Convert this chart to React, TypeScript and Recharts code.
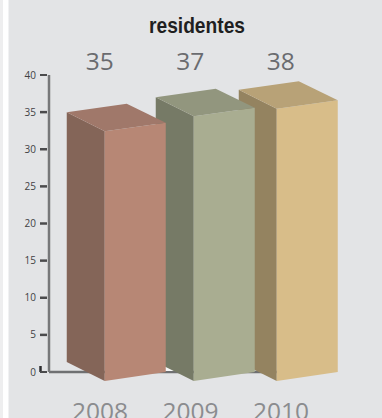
import { Bar, BarChart, LabelList, XAxis, YAxis } from "recharts";

const years = ["2008", "2009", "2010"];
const residents = [35, 37, 38];
const yTicks = [0, 5, 10, 15, 20, 25, 30, 35, 40];

// front, side and top face of each block
const faceColors: Record<string, { front: string; side: string; top: string }> = {
  "2008": { front: "#b78775", side: "#846558", top: "#a0786a" },
  "2009": { front: "#a9ad91", side: "#767a66", top: "#92967e" },
  "2010": { front: "#d8bd89", side: "#948360", top: "#b8a277" }
};

// the blocks do not sit evenly on the category bands
const blockOffset: Record<string, number> = { "2008": -33, "2009": -34.5, "2010": -42 };

const FRONT_W = 61;
const DEPTH_X = 38;
const DEPTH_Y = 19;
const SKEW = 8.5;
const FLOOR_LIFT = 10;
const AXIS_X = 49;

const SANS = "'Open Sans', sans-serif";

// rows run last year first so earlier blocks paint over later ones
const rows = years
  .map((year, i) => ({ year, residents: residents[i] }))
  .reverse();

function Block(props: any) {
  const { x, y, width, height, payload } = props;
  const colors = faceColors[payload.year];
  const left = x + width / 2 + blockOffset[payload.year];
  const corner = left + DEPTH_X;
  const right = corner + FRONT_W;
  const base = y + height;

  return (
    <g>
      {/* the baseline has to sit behind the blocks, so the first one painted draws it */}
      {payload.year === rows[0].year && (
        <line x1={AXIS_X} x2={corner} y1={base} y2={base} stroke="#6f7072" strokeWidth={2.5} />
      )}
      {/* small highlight where the middle block meets the floor */}
      {payload.year === "2009" && (
        <polygon
          fill="#f7f7f7"
          points={`${left + 8},${base - 6} ${left + 20},${base - 1} ${left + 8},${base - 1}`}
        />
      )}
      <polygon
        fill={colors.side}
        points={`${left},${y} ${corner},${y + DEPTH_Y} ${corner},${base + 9} ${left},${base - FLOOR_LIFT}`}
      />
      <polygon
        fill={colors.front}
        points={`${corner},${y + DEPTH_Y} ${right},${y + DEPTH_Y - SKEW} ${right},${base} ${corner},${base + 9}`}
      />
      <polygon
        fill={colors.top}
        points={`${left},${y} ${left + FRONT_W - 1},${y - SKEW} ${right},${y + DEPTH_Y - SKEW} ${corner},${y + DEPTH_Y}`}
      />
    </g>
  );
}

function ValueTick({ x, y, payload }: any) {
  return (
    <g>
      {payload.value === 0 && <path d={`M${x - 0.5} ${y - 6}V${y}`} stroke="#2e2e30" strokeWidth={2.5} />}
      <line x1={x - 1} x2={x + 6} y1={y} y2={y} stroke="#4b4b4d" strokeWidth={payload.value === 0 || payload.value === 40 ? 2 : 2.5} />
      <text x={x - 5} y={y + 3.5} textAnchor="end" fontSize={10} fontFamily={SANS} fill="#414143">
        {payload.value}
      </text>
    </g>
  );
}

function YearTick({ x, y, payload }: any) {
  return (
    <text x={x} y={y + 40} textAnchor="middle" fontSize={24.5} fontFamily={SANS} fill="#8b8c8f">
      {payload.value}
    </text>
  );
}

function ResidentsLabel({ x, width, value }: any) {
  return (
    <text x={x + width / 2} y={70} textAnchor="middle" fontSize={24.5} fontFamily={SANS} fill="#6a6b6f">
      {value}
    </text>
  );
}

export default function App() {
  return (
    <div
      style={{
        position: "fixed",
        left: 0,
        top: 0,
        width: 382,
        height: 418,
        overflow: "hidden",
        background: "linear-gradient(90deg, #eeeeef 0 3px, #ffffff 3px 8px, #e3e4e6 9px)"
      }}
    >
      <BarChart
        width={382}
        height={418}
        data={rows}
        margin={{ top: 75, right: 55.75, bottom: 0, left: 0 }}
      >
        <XAxis
          dataKey="year"
          reversed
          height={46}
          padding={{ left: 5.75, right: 0 }}
          axisLine={false}
          tickLine={false}
          tick={<YearTick />}
          interval={0}
        />
        <YAxis
          width={49}
          domain={[0, 40]}
          ticks={yTicks}
          interval={0}
          stroke="#77787a"
          strokeWidth={2.5}
          tickLine={false}
          tick={<ValueTick />}
        />
        <Bar dataKey="residents" barSize={60} isAnimationActive={false} shape={<Block />}>
          <LabelList dataKey="residents" content={<ResidentsLabel />} />
        </Bar>
        <text
          x={197}
          y={33}
          textAnchor="middle"
          fontSize={22}
          fontWeight="bold"
          fontFamily="'Liberation Sans', sans-serif"
          textLength={96}
          lengthAdjust="spacingAndGlyphs"
          fill="#1f1f21"
        >
          residentes
        </text>
      </BarChart>
    </div>
  );
}
